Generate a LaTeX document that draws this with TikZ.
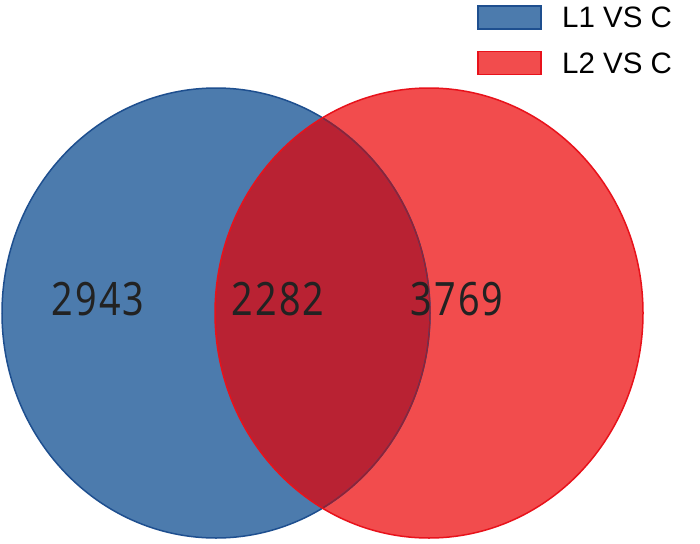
\documentclass[tikz,border=0pt]{standalone}
\usepackage{fontspec}
\setmainfont{Liberation Sans}
\newfontfamily\numfont[FakeStretch=0.82, LetterSpace=5]{Noto Sans}
\definecolor{bfill}{HTML}{4C7BAD}
\definecolor{bline}{HTML}{1E4F8F}
\definecolor{rfill}{HTML}{F24C4D}
\definecolor{rline}{HTML}{E8121B}
\definecolor{ifill}{HTML}{B92233}
\definecolor{numc}{HTML}{222222}
\begin{document}
\begin{tikzpicture}[x=1pt,y=-1pt,
  num/.style={font=\numfont\fontsize{46}{46}\selectfont, text=numc, inner sep=0pt},
  legtxt/.style={font=\fontsize{29.5}{29.5}\selectfont, anchor=west, inner sep=0pt},
  legbox/.style={line width=1.5pt, minimum width=63pt, minimum height=23pt, inner sep=0pt}]
\useasboundingbox (0,0) rectangle (700,543);
% sets
\fill[bfill] (216,313) ellipse [x radius=214, y radius=225];
\fill[rfill] (429,313) ellipse [x radius=214, y radius=225];
\begin{scope}
  \clip (216,313) ellipse [x radius=214, y radius=225];
  \fill[ifill] (429,313) ellipse [x radius=214, y radius=225];
\end{scope}
\draw[bline, line width=1.5pt] (216,313) ellipse [x radius=214, y radius=225];
\begin{scope}
  \clip (429,313) ellipse [x radius=214, y radius=225];
  \draw[ifill!85!black, line width=1.2pt] (216,313) ellipse [x radius=214, y radius=225];
\end{scope}
\draw[rline, line width=1.5pt] (429,313) ellipse [x radius=214, y radius=225];
% counts
\node[num] (n1) at (98,299) {2943};
\node[num] (n2) at (278,299) {2282};
\node[num] (n3) at (457,299) {3769};
% legend
\node[legbox, fill=bfill, draw=bline] (lb1) at (509.5,17.5) {};
\node[legbox, fill=rfill, draw=rline] (lb2) at (509.5,63) {};
\node[legtxt] (lt1) at (562,17.5) {L1 VS C};
\node[legtxt] (lt2) at (562,63) {L2 VS C};
\end{tikzpicture}
\end{document}
